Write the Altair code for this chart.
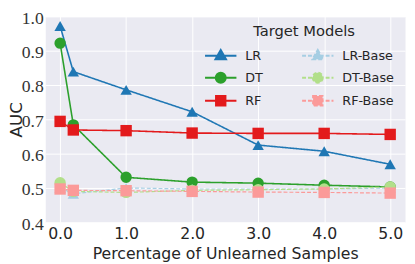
import altair as alt
import pandas as pd

x_vals = [0.0, 0.2, 1.0, 2.0, 3.0, 4.0, 5.0]
series_names = ["LR", "DT", "RF", "LR-Base", "DT-Base", "RF-Base"]
lr = [0.972, 0.839, 0.786, 0.722, 0.625, 0.607, 0.569]
dt = [0.922, 0.684, 0.531, 0.517, 0.514, 0.508, 0.503]
rf = [0.694, 0.669, 0.667, 0.660, 0.659, 0.659, 0.656]
lr_base = [0.500, 0.483, 0.500, 0.497, 0.497, 0.497, 0.500]
dt_base = [0.515, 0.490, 0.487, 0.493, 0.495, 0.497, 0.503]
rf_base = [0.497, 0.493, 0.492, 0.490, 0.488, 0.487, 0.485]
all_series = [lr, dt, rf, lr_base, dt_base, rf_base]

series_colors = ["#1f77b4", "#2ca02c", "#e31a1c", "#a6cee3", "#b2df8a", "#fb9a99"]
models = ["LR", "DT", "RF"]
model_shapes = ["triangle-up", "circle", "square"]
x_ticks = [0, 1, 2, 3, 4, 5]
y_ticks = [0.4, 0.5, 0.6, 0.7, 0.8, 0.9, 1.0]

rows = []
for k, (name, vals) in enumerate(zip(series_names, all_series)):
    for xv, yv in zip(x_vals, vals):
        rows.append({"x": xv, "auc": yv, "series": name, "k": k,
                     "model": name.split("-")[0],
                     "kind": "base" if "Base" in name else "main"})
df = pd.DataFrame(rows)

tri = "M-2.667,0H2.667M0,-1.0L0.9,0.6L-0.9,0.6Z"
circ = "M-2.667,0H2.667M0.85,0A0.85,0.85,0,1,1,-0.85,0A0.85,0.85,0,1,1,0.85,0Z"
sq = "M-2.667,0H2.667M-0.8,-0.8H0.8V0.8H-0.8Z"
shape_expr = (f"indexof(datum.value,'LR')>=0 ? '{tri}' : "
              f"(indexof(datum.value,'DT')>=0 ? '{circ}' : '{sq}')")
dash_expr = "indexof(datum.value,'Base')>=0 ? [4,2] : []"
col_expr = "scale('color', datum.value)"

x_enc = alt.X("x:Q",
              scale=alt.Scale(domain=[-0.225, 5.225], nice=False, zero=False),
              axis=alt.Axis(values=x_ticks, format=".1f",
                            title="Percentage of Unlearned Samples",
                            labelFont="DejaVu Sans", labelFontSize=16, labelPadding=4,
                            labelColor="#262626",
                            titleFont="DejaVu Sans", titleFontSize=16,
                            titleFontWeight="normal", titleColor="#262626",
                            titlePadding=4,
                            grid=True, gridColor="white", gridWidth=1,
                            domain=False, ticks=False))
y_enc = alt.Y("auc:Q",
              scale=alt.Scale(domain=[0.4, 1.0], nice=False, zero=False),
              axis=alt.Axis(values=y_ticks, format=".1f", title="AUC",
                            labelFont="Liberation Serif", labelFontSize=18,
                            labelPadding=2, labelOffset=2, labelColor="#333333",
                            titleFont="DejaVu Sans", titleFontSize=17,
                            titleFontWeight="normal", titleColor="#262626",
                            titleX=-20, titleY=105, titleAngle=270,
                            titleBaseline="bottom", titleAlign="center",
                            grid=True, gridColor="white", gridWidth=1,
                            domain=False, ticks=False))

color_scale = alt.Scale(domain=series_names, range=series_colors)

legend = alt.Legend(
    title="Target Models", orient="none", legendX=172, legendY=8,
    columns=2, columnPadding=35, rowPadding=4.5,
    titleAnchor="middle", titleFont="DejaVu Sans", titleFontSize=15,
    titleFontWeight="normal", titleColor="#262626", titlePadding=10,
    labelFont="DejaVu Sans", labelFontSize=13, labelColor="#262626",
    labelOffset=18, symbolSize=144, symbolStrokeWidth=2, padding=0,
    symbolType={"expr": shape_expr},
    symbolDash={"expr": dash_expr},
    symbolStrokeColor={"expr": col_expr},
    symbolFillColor={"expr": col_expr},
    symbolOpacity=1,
)

lines = alt.Chart(df).mark_line().encode(
    x=x_enc, y=y_enc,
    color=alt.Color("series:N", scale=color_scale, legend=legend),
    strokeDash=alt.StrokeDash("kind:N",
                              scale=alt.Scale(domain=["main", "base"], range=[[1, 0], [4, 2]]),
                              legend=None),
    strokeWidth=alt.StrokeWidth("kind:N",
                                scale=alt.Scale(domain=["main", "base"], range=[1.6, 1.2]),
                                legend=None),
    detail="series:N",
)

points = alt.Chart(df).mark_point(filled=True, opacity=1, size=135).encode(
    x=x_enc, y=y_enc,
    color=alt.Color("series:N", scale=color_scale, legend=legend),
    shape=alt.Shape("model:N",
                    scale=alt.Scale(domain=models, range=model_shapes),
                    legend=None),
    order=alt.Order("k:Q"),
)

chart = alt.layer(lines, points).properties(
    width=367, height=210,
    padding={"left": 38, "top": 6, "right": 2, "bottom": 40},
    autosize="none",
).configure_view(fill="#EAEAF2", stroke="transparent")

chart.save("out.html", embed_options={"renderer": "svg", "actions": False})
